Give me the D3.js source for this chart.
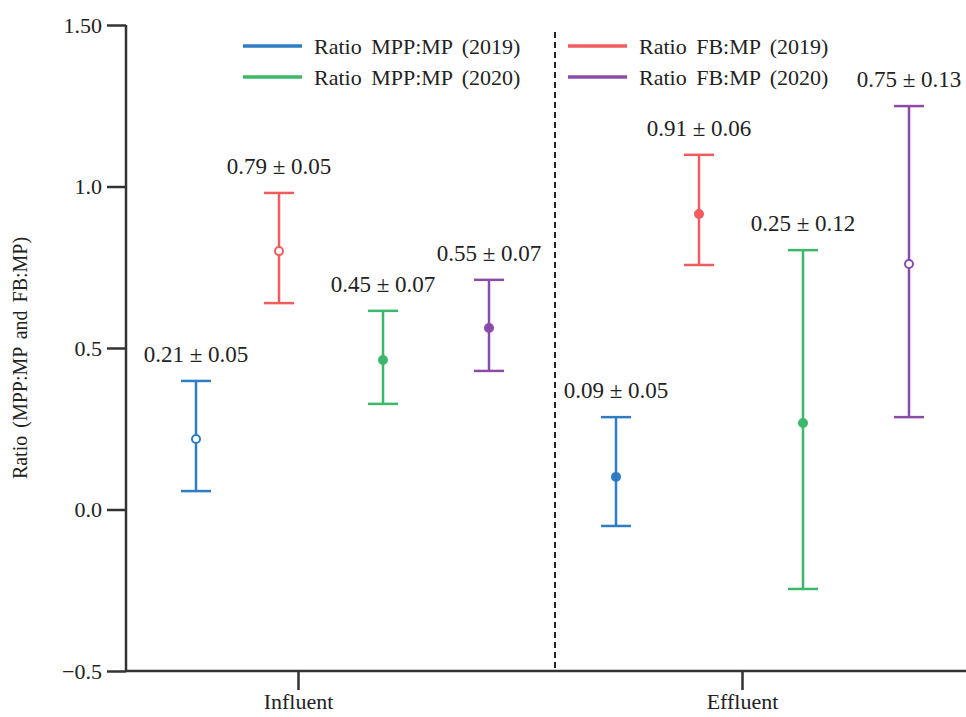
<!DOCTYPE html>
<html>
<head>
<meta charset="utf-8">
<script src="https://cdn.jsdelivr.net/npm/d3@7"></script>
<style>
  body { margin: 0; background: #fff; }
</style>
</head>
<body>
<svg id="chart" width="966" height="717"></svg>
<script>
// Data
const groups = ["Influent", "Effluent"];
const series = ["Ratio MPP:MP (2019)", "Ratio FB:MP (2019)", "Ratio MPP:MP (2020)", "Ratio FB:MP (2020)"];
const colors = ["#2e7dc4", "#f25c5f", "#3cb86a", "#8b4ca8"];

const influentMid = [0.218, 0.80, 0.463, 0.562];
const influentLow = [0.057, 0.639, 0.327, 0.429];
const influentHigh = [0.398, 0.980, 0.615, 0.711];
const influentMean = [0.21, 0.79, 0.45, 0.55];
const influentSd = [0.05, 0.05, 0.07, 0.07];

const effluentMid = [0.101, 0.915, 0.268, 0.760];
const effluentLow = [-0.051, 0.757, -0.246, 0.286];
const effluentHigh = [0.286, 1.098, 0.803, 1.249];
const effluentMean = [0.09, 0.91, 0.25, 0.75];
const effluentSd = [0.05, 0.06, 0.12, 0.13];

const yTicks = [-0.5, 0, 0.5, 1.0, 1.5];
const yTickLabels = ["\u22120.5", "0.0", "0.5", "1.0", "1.50"];

// hollow markers per group (index into series)
const hollow = { Influent: [0, 1], Effluent: [3] };

const FONT = "'Liberation Serif', 'DejaVu Serif', 'Noto Serif', serif";
const svg = d3.select("#chart");
const mLeft = 126, mRight = 966, mTop = 25, mBottom = 671;

const y = d3.scaleLinear().domain([-0.5, 1.5]).range([mBottom, mTop]);
const xGroup = d3.scaleBand().domain(groups).range([mLeft, mRight]);
const xTick = d3.scalePoint().domain(groups).range([298, 742]);
const slotOffset = [-140, -57, 47, 153];

// build rows
const rows = [];
groups.forEach((g, gi) => {
  const mid = gi === 0 ? influentMid : effluentMid;
  const lo = gi === 0 ? influentLow : effluentLow;
  const hi = gi === 0 ? influentHigh : effluentHigh;
  const mean = gi === 0 ? influentMean : effluentMean;
  const sd = gi === 0 ? influentSd : effluentSd;
  series.forEach((s, si) => {
    rows.push({
      group: g, si, mid: mid[si], lo: lo[si], hi: hi[si],
      label: mean[si].toFixed(2) + " \u00b1 " + sd[si].toFixed(2),
      x: xGroup(g) + xGroup.bandwidth() / 2 + slotOffset[si],
      hollow: hollow[g].includes(si)
    });
  });
});

// axes
const yAxis = svg.append("g").attr("transform", `translate(${mLeft},0)`)
  .call(d3.axisLeft(y).tickValues(yTicks).tickSize(19).tickPadding(5)
    .tickFormat((d, i) => yTickLabels[i]));
yAxis.select(".domain").attr("d", `M0,${mTop}V${mBottom}`);

const xAxis = svg.append("g").attr("transform", `translate(0,${mBottom})`)
  .call(d3.axisBottom(xTick).tickSize(19).tickPadding(5));
xAxis.select(".domain").attr("d", `M${mLeft},0H${mRight}`);

[yAxis, xAxis].forEach(a => {
  a.attr("font-family", FONT);
  a.selectAll("path, line").attr("stroke", "#333").attr("stroke-width", 2.5);
  a.selectAll("text").attr("font-size", 22).attr("fill", "#222");
});
xAxis.selectAll("text").attr("dy", "0.62em");

// y label
svg.append("text")
  .attr("transform", `translate(27,${(mTop + mBottom) / 2 + 10}) rotate(-90)`)
  .attr("text-anchor", "middle")
  .attr("font-family", FONT)
  .attr("font-size", 20)
  .attr("fill", "#222")
  .style("word-spacing", "3px")
  .text("Ratio (MPP:MP and FB:MP)");

// divider
svg.append("line")
  .attr("x1", 555).attr("x2", 555)
  .attr("y1", 32).attr("y2", mBottom)
  .attr("stroke", "#222").attr("stroke-width", 2)
  .attr("stroke-dasharray", "6,4");

// error bars
const cap = 15;
const bars = svg.append("g").selectAll("g").data(rows).join("g")
  .attr("stroke", d => colors[d.si])
  .attr("stroke-width", 2.5);

bars.append("line")
  .attr("x1", d => d.x).attr("x2", d => d.x)
  .attr("y1", d => y(d.hi)).attr("y2", d => y(d.lo));
bars.append("line")
  .attr("x1", d => d.x - cap).attr("x2", d => d.x + cap)
  .attr("y1", d => y(d.hi)).attr("y2", d => y(d.hi));
bars.append("line")
  .attr("x1", d => d.x - cap).attr("x2", d => d.x + cap)
  .attr("y1", d => y(d.lo)).attr("y2", d => y(d.lo));
bars.append("circle")
  .attr("cx", d => d.x).attr("cy", d => y(d.mid))
  .attr("r", 4)
  .attr("fill", d => d.hollow ? "#fff" : colors[d.si])
  .attr("stroke-width", 2);

svg.append("g").selectAll("text").data(rows).join("text")
  .attr("x", d => d.x)
  .attr("y", d => y(d.hi) - 19)
  .attr("text-anchor", "middle")
  .attr("font-family", FONT)
  .attr("font-size", 23)
  .attr("fill", "#222")
  .text(d => d.label);

// legend
const legendPos = [[243, 46], [568, 46], [243, 77], [568, 77]];
const legend = svg.append("g").selectAll("g").data(series).join("g")
  .attr("transform", (d, i) => `translate(${legendPos[i][0]},${legendPos[i][1]})`);
legend.append("line")
  .attr("x1", 0).attr("x2", 59)
  .attr("stroke", (d, i) => colors[i]).attr("stroke-width", 3.5);
legend.append("text")
  .attr("x", 71).attr("y", 8)
  .attr("font-family", FONT)
  .attr("font-size", 22)
  .attr("fill", "#222")
  .style("word-spacing", "4px")
  .text(d => d);
</script>
</body>
</html>
